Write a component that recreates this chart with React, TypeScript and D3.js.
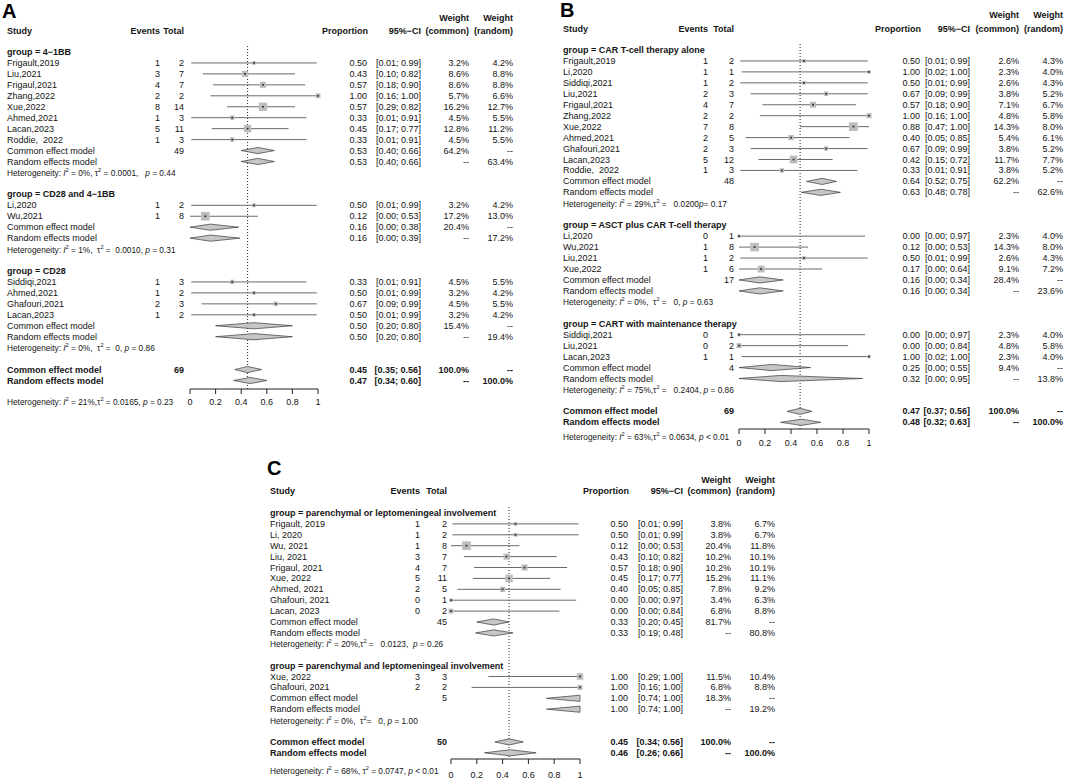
import React from "react";
import * as d3 from "d3";

const FONT = "'Liberation Sans', Arial, Helvetica, sans-serif";

interface Study { g: number; study: string; ev: number; n: number; p: number; lo: number; hi: number; wc: number; wr: number; }
interface Pooled { n: number | null; p: number; lo: number; hi: number; wc: number | null; wr: number | null; }

// ---------------- Panel A data ----------------
const groupsA = ["4−1BB", "CD28 and 4−1BB", "CD28"];
const studiesA: Study[] = [
  { g: 0, study: "Frigault,2019", ev: 1, n: 2, p: 0.50, lo: 0.01, hi: 0.99, wc: 3.2, wr: 4.2 },
  { g: 0, study: "Liu,2021", ev: 3, n: 7, p: 0.43, lo: 0.10, hi: 0.82, wc: 8.6, wr: 8.8 },
  { g: 0, study: "Frigaul,2021", ev: 4, n: 7, p: 0.57, lo: 0.18, hi: 0.90, wc: 8.6, wr: 8.8 },
  { g: 0, study: "Zhang,2022", ev: 2, n: 2, p: 1.00, lo: 0.16, hi: 1.00, wc: 5.7, wr: 6.6 },
  { g: 0, study: "Xue,2022", ev: 8, n: 14, p: 0.57, lo: 0.29, hi: 0.82, wc: 16.2, wr: 12.7 },
  { g: 0, study: "Ahmed,2021", ev: 1, n: 3, p: 0.33, lo: 0.01, hi: 0.91, wc: 4.5, wr: 5.5 },
  { g: 0, study: "Lacan,2023", ev: 5, n: 11, p: 0.45, lo: 0.17, hi: 0.77, wc: 12.8, wr: 11.2 },
  { g: 0, study: "Roddie,  2022", ev: 1, n: 3, p: 0.33, lo: 0.01, hi: 0.91, wc: 4.5, wr: 5.5 },
  { g: 1, study: "Li,2020", ev: 1, n: 2, p: 0.50, lo: 0.01, hi: 0.99, wc: 3.2, wr: 4.2 },
  { g: 1, study: "Wu,2021", ev: 1, n: 8, p: 0.12, lo: 0.00, hi: 0.53, wc: 17.2, wr: 13.0 },
  { g: 2, study: "Siddiqi,2021", ev: 1, n: 3, p: 0.33, lo: 0.01, hi: 0.91, wc: 4.5, wr: 5.5 },
  { g: 2, study: "Ahmed,2021", ev: 1, n: 2, p: 0.50, lo: 0.01, hi: 0.99, wc: 3.2, wr: 4.2 },
  { g: 2, study: "Ghafouri,2021", ev: 2, n: 3, p: 0.67, lo: 0.09, hi: 0.99, wc: 4.5, wr: 5.5 },
  { g: 2, study: "Lacan,2023", ev: 1, n: 2, p: 0.50, lo: 0.01, hi: 0.99, wc: 3.2, wr: 4.2 },
];
const commonA: Pooled[] = [
  { n: 49, p: 0.53, lo: 0.40, hi: 0.66, wc: 64.2, wr: null },
  { n: null, p: 0.16, lo: 0.00, hi: 0.38, wc: 20.4, wr: null },
  { n: null, p: 0.50, lo: 0.20, hi: 0.80, wc: 15.4, wr: null },
];
const randomA: Pooled[] = [
  { n: null, p: 0.53, lo: 0.40, hi: 0.66, wc: null, wr: 63.4 },
  { n: null, p: 0.16, lo: 0.00, hi: 0.39, wc: null, wr: 17.2 },
  { n: null, p: 0.50, lo: 0.20, hi: 0.80, wc: null, wr: 19.4 },
];
const hetA = [
  "Heterogeneity: _I_^2 = 0%, τ^2 = 0.0001,   _p_ = 0.44",
  "Heterogeneity: _I_^2 = 1%,  τ^2 =  0.0010, _p_ = 0.31",
  "Heterogeneity: _I_^2 = 0%,  τ^2 =  0, _p_ = 0.86",
];
const overallCommonA: Pooled = { n: 69, p: 0.45, lo: 0.35, hi: 0.56, wc: 100, wr: null };
const overallRandomA: Pooled = { n: null, p: 0.47, lo: 0.34, hi: 0.60, wc: null, wr: 100 };
const overallHetA = "Heterogeneity: _I_^2 = 21%,τ^2 = 0.0165, _p_ = 0.23";

// ---------------- Panel B data ----------------
const groupsB = ["CAR T-cell therapy alone", "ASCT plus CAR T-cell therapy", "CART with maintenance therapy"];
const studiesB: Study[] = [
  { g: 0, study: "Frigault,2019", ev: 1, n: 2, p: 0.50, lo: 0.01, hi: 0.99, wc: 2.6, wr: 4.3 },
  { g: 0, study: "Li,2020", ev: 1, n: 1, p: 1.00, lo: 0.02, hi: 1.00, wc: 2.3, wr: 4.0 },
  { g: 0, study: "Siddiqi,2021", ev: 1, n: 2, p: 0.50, lo: 0.01, hi: 0.99, wc: 2.6, wr: 4.3 },
  { g: 0, study: "Liu,2021", ev: 2, n: 3, p: 0.67, lo: 0.09, hi: 0.99, wc: 3.8, wr: 5.2 },
  { g: 0, study: "Frigaul,2021", ev: 4, n: 7, p: 0.57, lo: 0.18, hi: 0.90, wc: 7.1, wr: 6.7 },
  { g: 0, study: "Zhang,2022", ev: 2, n: 2, p: 1.00, lo: 0.16, hi: 1.00, wc: 4.8, wr: 5.8 },
  { g: 0, study: "Xue,2022", ev: 7, n: 8, p: 0.88, lo: 0.47, hi: 1.00, wc: 14.3, wr: 8.0 },
  { g: 0, study: "Ahmed,2021", ev: 2, n: 5, p: 0.40, lo: 0.05, hi: 0.85, wc: 5.4, wr: 6.1 },
  { g: 0, study: "Ghafouri,2021", ev: 2, n: 3, p: 0.67, lo: 0.09, hi: 0.99, wc: 3.8, wr: 5.2 },
  { g: 0, study: "Lacan,2023", ev: 5, n: 12, p: 0.42, lo: 0.15, hi: 0.72, wc: 11.7, wr: 7.7 },
  { g: 0, study: "Roddie,  2022", ev: 1, n: 3, p: 0.33, lo: 0.01, hi: 0.91, wc: 3.8, wr: 5.2 },
  { g: 1, study: "Li,2020", ev: 0, n: 1, p: 0.00, lo: 0.00, hi: 0.97, wc: 2.3, wr: 4.0 },
  { g: 1, study: "Wu,2021", ev: 1, n: 8, p: 0.12, lo: 0.00, hi: 0.53, wc: 14.3, wr: 8.0 },
  { g: 1, study: "Liu,2021", ev: 1, n: 2, p: 0.50, lo: 0.01, hi: 0.99, wc: 2.6, wr: 4.3 },
  { g: 1, study: "Xue,2022", ev: 1, n: 6, p: 0.17, lo: 0.00, hi: 0.64, wc: 9.1, wr: 7.2 },
  { g: 2, study: "Siddiqi,2021", ev: 0, n: 1, p: 0.00, lo: 0.00, hi: 0.97, wc: 2.3, wr: 4.0 },
  { g: 2, study: "Liu,2021", ev: 0, n: 2, p: 0.00, lo: 0.00, hi: 0.84, wc: 4.8, wr: 5.8 },
  { g: 2, study: "Lacan,2023", ev: 1, n: 1, p: 1.00, lo: 0.02, hi: 1.00, wc: 2.3, wr: 4.0 },
];
const commonB: Pooled[] = [
  { n: 48, p: 0.64, lo: 0.52, hi: 0.75, wc: 62.2, wr: null },
  { n: 17, p: 0.16, lo: 0.00, hi: 0.34, wc: 28.4, wr: null },
  { n: 4, p: 0.25, lo: 0.00, hi: 0.55, wc: 9.4, wr: null },
];
const randomB: Pooled[] = [
  { n: null, p: 0.63, lo: 0.48, hi: 0.78, wc: null, wr: 62.6 },
  { n: null, p: 0.16, lo: 0.00, hi: 0.34, wc: null, wr: 23.6 },
  { n: null, p: 0.32, lo: 0.00, hi: 0.95, wc: null, wr: 13.8 },
];
const hetB = [
  "Heterogeneity: _I_^2 = 29%,τ^2 =   0.0200_p_= 0.17",
  "Heterogeneity: _I_^2 = 0%,  τ^2 =   0, _p_ = 0.63",
  "Heterogeneity: _I_^2 = 75%,τ^2 =   0.2404, _p_ = 0.86",
];
const overallCommonB: Pooled = { n: 69, p: 0.47, lo: 0.37, hi: 0.56, wc: 100, wr: null };
const overallRandomB: Pooled = { n: null, p: 0.48, lo: 0.32, hi: 0.63, wc: null, wr: 100 };
const overallHetB = "Heterogeneity: _I_^2 = 63%,τ^2 = 0.0634, _p_ < 0.01";

// ---------------- Panel C data ----------------
const groupsC = ["parenchymal or leptomeningeal involvement", "parenchymal and leptomeningeal involvement"];
const studiesC: Study[] = [
  { g: 0, study: "Frigault, 2019", ev: 1, n: 2, p: 0.50, lo: 0.01, hi: 0.99, wc: 3.8, wr: 6.7 },
  { g: 0, study: "Li, 2020", ev: 1, n: 2, p: 0.50, lo: 0.01, hi: 0.99, wc: 3.8, wr: 6.7 },
  { g: 0, study: "Wu, 2021", ev: 1, n: 8, p: 0.12, lo: 0.00, hi: 0.53, wc: 20.4, wr: 11.8 },
  { g: 0, study: "Liu, 2021", ev: 3, n: 7, p: 0.43, lo: 0.10, hi: 0.82, wc: 10.2, wr: 10.1 },
  { g: 0, study: "Frigaul, 2021", ev: 4, n: 7, p: 0.57, lo: 0.18, hi: 0.90, wc: 10.2, wr: 10.1 },
  { g: 0, study: "Xue, 2022", ev: 5, n: 11, p: 0.45, lo: 0.17, hi: 0.77, wc: 15.2, wr: 11.1 },
  { g: 0, study: "Ahmed, 2021", ev: 2, n: 5, p: 0.40, lo: 0.05, hi: 0.85, wc: 7.8, wr: 9.2 },
  { g: 0, study: "Ghafouri, 2021", ev: 0, n: 1, p: 0.00, lo: 0.00, hi: 0.97, wc: 3.4, wr: 6.3 },
  { g: 0, study: "Lacan, 2023", ev: 0, n: 2, p: 0.00, lo: 0.00, hi: 0.84, wc: 6.8, wr: 8.8 },
  { g: 1, study: "Xue, 2022", ev: 3, n: 3, p: 1.00, lo: 0.29, hi: 1.00, wc: 11.5, wr: 10.4 },
  { g: 1, study: "Ghafouri, 2021", ev: 2, n: 2, p: 1.00, lo: 0.16, hi: 1.00, wc: 6.8, wr: 8.8 },
];
const commonC: Pooled[] = [
  { n: 45, p: 0.33, lo: 0.20, hi: 0.45, wc: 81.7, wr: null },
  { n: 5, p: 1.00, lo: 0.74, hi: 1.00, wc: 18.3, wr: null },
];
const randomC: Pooled[] = [
  { n: null, p: 0.33, lo: 0.19, hi: 0.48, wc: null, wr: 80.8 },
  { n: null, p: 1.00, lo: 0.74, hi: 1.00, wc: null, wr: 19.2 },
];
const hetC = [
  "Heterogeneity: _I_^2 = 20%,τ^2 =   0.0123,  _p_ = 0.26",
  "Heterogeneity: _I_^2 = 0%,  τ^2=   0, _p_ = 1.00",
];
const overallCommonC: Pooled = { n: 50, p: 0.45, lo: 0.34, hi: 0.56, wc: 100, wr: null };
const overallRandomC: Pooled = { n: null, p: 0.46, lo: 0.26, hi: 0.66, wc: null, wr: 100 };
const overallHetC = "Heterogeneity: _I_^2 = 68%, τ^2 = 0.0747, _p_ < 0.01";

// axis
const axisTicks = [0, 0.2, 0.4, 0.6, 0.8, 1];
const axisTickLabels = ["0", "0.2", "0.4", "0.6", "0.8", "1"];

// ---------------- layout ----------------
interface Layout {
  label: string; labelX: number; labelY: number; studyX: number; evR: number; nR: number;
  x0: number; x1: number; propR: number; ciR: number; wcR: number; wrR: number;
  hdr1: number; hdr2: number; top: number; rowH: number; axisY: number; tickY: number; hetY: number;
}
const layoutA: Layout = { label: "A", labelX: 2, labelY: 18, studyX: 7, evR: 160, nR: 184, x0: 190, x1: 318, propR: 367, ciR: 421, wcR: 469, wrR: 513, hdr1: 18, hdr2: 31, top: 52, rowH: 10.95, axisY: 389, tickY: 402, hetY: 402 };
const layoutB: Layout = { label: "B", labelX: 560, labelY: 17, studyX: 563, evR: 708, nR: 734, x0: 739, x1: 869, propR: 920, ciR: 970, wcR: 1019, wrR: 1063, hdr1: 15, hdr2: 29, top: 50, rowH: 10.95, axisY: 429, tickY: 443, hetY: 437 };
const layoutC: Layout = { label: "C", labelX: 267, labelY: 475, studyX: 270, evR: 420, nR: 447, x0: 451, x1: 580, propR: 628, ciR: 683, wcR: 731, wrR: 775, hdr1: 480, hdr2: 491, top: 513, rowH: 10.9, axisY: 759, tickY: 775, hetY: 771 };

const FS = 9;
const HFS = 8.3;
const TXT = "#141414";
const f2 = d3.format(".2f");
const fw = (w: number | null) => (w == null ? "--" : `${w.toFixed(1)}%`);

function Het({ x, y, s }: { x: number; y: number; s: string }) {
  const parts = s.split(/(_[^_]+_|\^2)/).filter((p) => p !== "");
  let prevSup = false;
  return (
    <text x={x} y={y} fontSize={HFS} fill={TXT} dominantBaseline="central" style={{ whiteSpace: "pre" }}>
      {parts.map((p, i) => {
        const dyBack = prevSup ? 3 : undefined;
        if (p === "^2") {
          prevSup = true;
          return <tspan key={i} fontSize={HFS * 0.68} dy={-3}>2</tspan>;
        }
        prevSup = false;
        if (p.startsWith("_") && p.endsWith("_")) {
          return <tspan key={i} fontStyle="italic" dy={dyBack}>{p.slice(1, -1)}</tspan>;
        }
        return <tspan key={i} dy={dyBack}>{p}</tspan>;
      })}
    </text>
  );
}

interface PanelProps {
  L: Layout; groups: string[]; studies: Study[]; common: Pooled[]; random: Pooled[]; het: string[];
  oc: Pooled; or: Pooled; ohet: string;
}

function Panel({ L, groups, studies, common, random, het, oc, or, ohet }: PanelProps) {
  const x = d3.scaleLinear().domain([0, 1]).range([L.x0, L.x1]);
  const maxW = d3.max(studies, (s) => s.wc) || 1;
  const box = d3.scaleSqrt().domain([0, maxW]).range([0, 8.6]);
  const yOf = (i: number) => L.top + i * L.rowH;

  type Row =
    | { kind: "group"; i: number; label: string }
    | { kind: "study"; i: number; s: Study }
    | { kind: "pool"; i: number; label: string; d: Pooled; bold: boolean }
    | { kind: "het"; i: number; label: string };
  const rows: Row[] = [];
  let i = 0;
  groups.forEach((g, gi) => {
    rows.push({ kind: "group", i: i++, label: `group = ${g}` });
    studies.filter((s) => s.g === gi).forEach((s) => rows.push({ kind: "study", i: i++, s }));
    rows.push({ kind: "pool", i: i++, label: "Common effect model", d: common[gi], bold: false });
    rows.push({ kind: "pool", i: i++, label: "Random effects model", d: random[gi], bold: false });
    rows.push({ kind: "het", i: i++, label: het[gi] });
    i++;
  });
  rows.push({ kind: "pool", i: i++, label: "Common effect model", d: oc, bold: true });
  rows.push({ kind: "pool", i: i++, label: "Random effects model", d: or, bold: true });

  const tx = (props: any, content: string) => (
    <text fontSize={FS} fill={TXT} dominantBaseline="central" style={{ whiteSpace: "pre" }} {...props}>{content}</text>
  );

  const dh = 3.1;
  return (
    <g fontFamily={FONT}>
      <text x={L.labelX} y={L.labelY} fontSize={20} fontWeight="bold" fill="#000">{L.label}</text>
      {/* headers */}
      {tx({ x: L.studyX, y: L.hdr2, fontWeight: "bold" }, "Study")}
      {tx({ x: L.evR, y: L.hdr2, fontWeight: "bold", textAnchor: "end" }, "Events")}
      {tx({ x: L.nR, y: L.hdr2, fontWeight: "bold", textAnchor: "end" }, "Total")}
      {tx({ x: L.propR + 1, y: L.hdr2, fontWeight: "bold", textAnchor: "end" }, "Proportion")}
      {tx({ x: L.ciR, y: L.hdr2, fontWeight: "bold", textAnchor: "end" }, "95%−CI")}
      {tx({ x: L.wcR, y: L.hdr1, fontWeight: "bold", textAnchor: "end" }, "Weight")}
      {tx({ x: L.wcR, y: L.hdr2, fontWeight: "bold", textAnchor: "end" }, "(common)")}
      {tx({ x: L.wrR, y: L.hdr1, fontWeight: "bold", textAnchor: "end" }, "Weight")}
      {tx({ x: L.wrR, y: L.hdr2, fontWeight: "bold", textAnchor: "end" }, "(random)")}

      {/* reference line */}
      <line x1={x(oc.p)} x2={x(oc.p)} y1={L.top - 6} y2={L.axisY} stroke="#222" strokeWidth={1} strokeDasharray="1,2" />

      {rows.map((r, k) => {
        const y = yOf(r.i);
        if (r.kind === "group") {
          return <g key={k}>{tx({ x: L.studyX, y, fontWeight: "bold" }, r.label)}</g>;
        }
        if (r.kind === "het") {
          return <Het key={k} x={L.studyX} y={y + 0.5} s={r.label} />;
        }
        if (r.kind === "study") {
          const s = r.s;
          const b = box(s.wc);
          return (
            <g key={k}>
              {tx({ x: L.studyX, y }, s.study)}
              {tx({ x: L.evR, y, textAnchor: "end" }, String(s.ev))}
              {tx({ x: L.nR, y, textAnchor: "end" }, String(s.n))}
              <line x1={x(s.lo)} x2={x(s.hi)} y1={y} y2={y} stroke="#6a6a6a" strokeWidth={1} />
              <rect x={x(s.p) - b / 2} y={y - b / 2} width={b} height={b} fill="#bdbdbd" />
              <rect x={x(s.p) - 0.9} y={y - 0.9} width={1.8} height={1.8} fill="#333" />
              {tx({ x: L.propR, y, textAnchor: "end" }, f2(s.p))}
              {tx({ x: L.ciR, y, textAnchor: "end" }, `[${f2(s.lo)}; ${f2(s.hi)}]`)}
              {tx({ x: L.wcR, y, textAnchor: "end" }, fw(s.wc))}
              {tx({ x: L.wrR, y, textAnchor: "end" }, fw(s.wr))}
            </g>
          );
        }
        const d = r.d;
        const fwgt = r.bold ? "bold" : "normal";
        const pts = [
          [x(d.lo), y], [x(d.p), y - dh], [x(d.hi), y], [x(d.p), y + dh],
        ].map((p) => p.join(",")).join(" ");
        return (
          <g key={k}>
            {tx({ x: L.studyX, y, fontWeight: fwgt }, r.label)}
            {d.n != null && tx({ x: L.nR, y, textAnchor: "end", fontWeight: fwgt }, String(d.n))}
            <polygon points={pts} fill="#c6c6c6" stroke="#3a3a3a" strokeWidth={0.7} />
            {tx({ x: L.propR, y, textAnchor: "end", fontWeight: fwgt }, f2(d.p))}
            {tx({ x: L.ciR, y, textAnchor: "end", fontWeight: fwgt }, `[${f2(d.lo)}; ${f2(d.hi)}]`)}
            {tx({ x: L.wcR, y, textAnchor: "end", fontWeight: fwgt }, fw(d.wc))}
            {tx({ x: L.wrR, y, textAnchor: "end", fontWeight: fwgt }, fw(d.wr))}
          </g>
        );
      })}

      {/* axis */}
      <line x1={L.x0} x2={L.x1} y1={L.axisY} y2={L.axisY} stroke="#222" strokeWidth={1} />
      {axisTicks.map((t, k) => (
        <g key={k}>
          <line x1={x(t)} x2={x(t)} y1={L.axisY} y2={L.axisY + 5} stroke="#222" strokeWidth={1} />
          {tx({ x: x(t), y: L.tickY, textAnchor: "middle" }, axisTickLabels[k])}
        </g>
      ))}
      <Het x={L.studyX} y={L.hetY} s={ohet} />
    </g>
  );
}

export default function App() {
  return (
    <div style={{ position: "absolute", left: 0, top: 0, width: 1065, height: 780, background: "#fff" }}>
      <svg width={1065} height={780} viewBox="0 0 1065 780" style={{ display: "block", background: "#fff" }}>
        <Panel L={layoutA} groups={groupsA} studies={studiesA} common={commonA} random={randomA} het={hetA}
          oc={overallCommonA} or={overallRandomA} ohet={overallHetA} />
        <Panel L={layoutB} groups={groupsB} studies={studiesB} common={commonB} random={randomB} het={hetB}
          oc={overallCommonB} or={overallRandomB} ohet={overallHetB} />
        <Panel L={layoutC} groups={groupsC} studies={studiesC} common={commonC} random={randomC} het={hetC}
          oc={overallCommonC} or={overallRandomC} ohet={overallHetC} />
      </svg>
    </div>
  );
}
